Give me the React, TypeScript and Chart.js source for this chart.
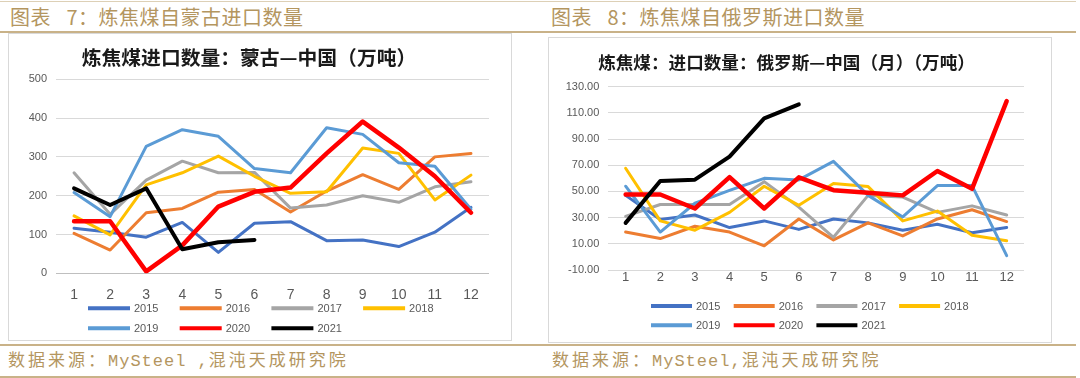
import React, { useEffect, useRef } from 'react';
import { Chart, registerables } from 'chart.js';

Chart.register(...registerables);

// ---- shared categories / series labels ----
const months = ['1', '2', '3', '4', '5', '6', '7', '8', '9', '10', '11', '12'];
const years = ['2015', '2016', '2017', '2018', '2019', '2020', '2021'];
const seriesColors = ['#4472C4', '#ED7D31', '#A5A5A5', '#FFC000', '#5B9BD5', '#FF0000', '#000000'];
const seriesWidths = [3, 3, 3, 3, 3, 4.5, 4];

// ---- Mongolia -> China (万吨) ----
const mn2015 = [116, 106, 93, 131, 54, 129, 133, 84, 86, 69, 106, 170];
const mn2016 = [103, 60, 156, 167, 209, 216, 158, 212, 254, 216, 300, 309];
const mn2017 = [259, 152, 240, 289, 259, 260, 168, 176, 200, 183, 223, 236];
const mn2018 = [148, 99, 228, 259, 302, 250, 206, 210, 323, 309, 189, 253];
const mn2019 = [208, 146, 327, 370, 353, 270, 259, 375, 358, 285, 276, 165];
const mn2020 = [134, 134, 5, 72, 172, 210, 221, 309, 391, 324, 250, 156];
const mn2021 = [219, 176, 219, 62, 80, 86];
const mnTicks = { min: 0, max: 500, step: 100 };

// ---- Russia -> China (万吨) ----
const ru2015 = [47, 28.5, 32, 22.4, 27.5, 21, 29, 26, 20.4, 25, 18.4, 22.4];
const ru2016 = [19, 14, 23.4, 19, 8.5, 29, 13, 26, 16, 29, 36, 27];
const ru2017 = [31, 40, 40, 40, 57.5, 38, 15, 47, 45.7, 34, 39, 32];
const ru2018 = [67.7, 27.5, 20.4, 34, 54, 39.4, 56, 53.7, 27.5, 35, 16.6, 12.3];
const ru2019 = [54, 19, 41, 50.8, 60, 58.8, 73, 47, 30.5, 54.5, 54.5, 1];
const ru2020 = [47.7, 47.7, 37, 61, 37, 60.8, 51, 49, 47, 65.6, 52, 119];
const ru2021 = [26, 58, 59, 76.6, 105.8, 116.5];
const ruTicks = { min: -10, max: 130, step: 20 };

const mnTitle = '炼焦煤进口数量：蒙古—中国（万吨）';
const ruTitle = '炼焦煤：进口数量：俄罗斯—中国（月）（万吨）';

const TICK_COLOR = '#595959';
const GRID_COLOR = '#d9d9d9';

// custom legend drawn in Excel-like grid (4 per row, rows left-aligned)
const lineLegend = {
  id: 'lineLegend',
  afterDraw(chart: any, _args: any, opts: any) {
    const ctx = chart.ctx;
    ctx.save();
    ctx.font = opts.font;
    ctx.textBaseline = 'middle';
    ctx.textAlign = 'left';
    chart.data.datasets.forEach((ds: any, i: number) => {
      const row = Math.floor(i / opts.perRow);
      const col = i % opts.perRow;
      const x = opts.x + col * opts.step;
      const y = opts.rows[row];
      ctx.strokeStyle = ds.borderColor;
      ctx.lineWidth = opts.lineWidth;
      ctx.lineCap = 'butt';
      ctx.beginPath();
      ctx.moveTo(x, y);
      ctx.lineTo(x + opts.len, y);
      ctx.stroke();
      ctx.fillStyle = TICK_COLOR;
      ctx.fillText(ds.label, x + opts.len + opts.gap, y + 0.5);
    });
    ctx.restore();
  },
};

type Cfg = {
  series: number[][];
  title: string;
  titleSize: number;
  titlePadTop: number;
  titlePadBottom: number;
  yWidth: number;
  rightPad: number;
  xHeight: number;
  xPad: number;
  xFont: number;
  ticks: { min: number; max: number; step: number };
  decimals: number;
  legend: any;
};

function LineChart({ cfg, width, height }: { cfg: Cfg; width: number; height: number }) {
  const ref = useRef<HTMLCanvasElement | null>(null);
  useEffect(() => {
    if (!ref.current) return;
    const datasets = years.map((y, i) => ({
      label: y,
      data: cfg.series[i],
      borderColor: seriesColors[i],
      backgroundColor: seriesColors[i],
      borderWidth: seriesWidths[i],
      pointRadius: 0,
      tension: 0,
      fill: false,
      borderJoinStyle: 'round' as const,
      borderCapStyle: 'round' as const,
      order: years.length - i,
    }));
    const chart = new Chart(ref.current, {
      type: 'line',
      data: { labels: months, datasets },
      plugins: [lineLegend as any],
      options: {
        animation: false,
        responsive: false,
        maintainAspectRatio: false,
        layout: { padding: { left: 0, right: cfg.rightPad, top: 0, bottom: 0 } },
        plugins: {
          legend: { display: false },
          tooltip: { enabled: false },
          title: {
            display: true,
            text: cfg.title,
            color: '#1a1a1a',
            font: { family: '"Noto Sans CJK SC", sans-serif', size: cfg.titleSize, weight: 'bold' },
            padding: { top: cfg.titlePadTop, bottom: cfg.titlePadBottom },
          },
          lineLegend: cfg.legend,
        } as any,
        scales: {
          x: {
            offset: true,
            grid: { display: false, drawTicks: false },
            border: { display: false },
            ticks: {
              color: TICK_COLOR,
              padding: cfg.xPad,
              font: { family: '"Liberation Sans", sans-serif', size: cfg.xFont },
              maxRotation: 0,
              autoSkip: false,
            },
            afterFit: (s: any) => {
              s.height = cfg.xHeight;
            },
          },
          y: {
            min: cfg.ticks.min,
            max: cfg.ticks.max,
            border: { display: false },
            grid: {
              drawTicks: false,
              color: (c: any) => (c.tick && c.tick.value === 0 ? '#bfbfbf' : GRID_COLOR),
              lineWidth: 1,
            },
            ticks: {
              stepSize: cfg.ticks.step,
              color: TICK_COLOR,
              padding: 9,
              font: { family: '"Liberation Sans", sans-serif', size: 11 },
              callback: (v: any) => Number(v).toFixed(cfg.decimals),
            },
            afterFit: (s: any) => {
              s.width = cfg.yWidth;
            },
          },
        },
      },
    });
    return () => chart.destroy();
  }, []);
  return <canvas ref={ref} width={width} height={height} style={{ display: 'block', width, height }} />;
}

const mnCfg: Cfg = {
  series: [mn2015, mn2016, mn2017, mn2018, mn2019, mn2020, mn2021],
  title: mnTitle,
  titleSize: 19.8,
  titlePadTop: 11.2,
  titlePadBottom: 10.3,
  yWidth: 47,
  rightPad: 22,
  xHeight: 66.7,
  xPad: 13,
  xFont: 14,
  ticks: mnTicks,
  decimals: 0,
  legend: {
    x: 79,
    step: 91.7,
    rows: [274.3, 294.3],
    perRow: 4,
    len: 42,
    gap: 4,
    lineWidth: 4,
    font: '11px "Liberation Sans", sans-serif',
  },
};

const ruCfg: Cfg = {
  series: [ru2015, ru2016, ru2017, ru2018, ru2019, ru2020, ru2021],
  title: ruTitle,
  titleSize: 17.6,
  titlePadTop: 13.5,
  titlePadBottom: 14.1,
  yWidth: 59.3,
  rightPad: 27,
  xHeight: 72,
  xPad: 0,
  xFont: 13,
  ticks: ruTicks,
  decimals: 2,
  legend: {
    x: 102,
    step: 82.7,
    rows: [268, 287.3],
    perRow: 4,
    len: 41,
    gap: 4,
    lineWidth: 4,
    font: '11px "Liberation Sans", sans-serif',
  },
};

const TAN_TEXT = '#b4965f';
const TAN_LINE = '#c9b288';

const headerStyle: React.CSSProperties = {
  position: 'absolute',
  top: 7,
  height: 20,
  lineHeight: '20px',
  fontSize: 20,
  letterSpacing: 0.5,
  color: TAN_TEXT,
  fontFamily: '"Noto Sans CJK SC", sans-serif',
  whiteSpace: 'nowrap',
};

const footerStyle: React.CSSProperties = {
  position: 'absolute',
  top: 350,
  height: 18,
  lineHeight: '18px',
  fontSize: 17,
  color: TAN_TEXT,
  fontFamily: '"Noto Sans CJK SC", sans-serif',
  whiteSpace: 'nowrap',
};

const cjk: React.CSSProperties = { letterSpacing: 3 };
const lat: React.CSSProperties = { letterSpacing: 1, fontFamily: '"Liberation Mono", monospace' };

export default function App() {
  return (
    <div
      style={{
        position: 'fixed',
        left: 0,
        top: 0,
        width: 1080,
        height: 378,
        background: '#ffffff',
        overflow: 'hidden',
      }}
    >
      <div style={{ position: 'absolute', left: 0, top: 1, width: 1076, height: 1, background: '#ddd0b6' }} />
      <div style={{ ...headerStyle, left: 10 }}>图表{'\u2002 '}7：炼焦煤自蒙古进口数量</div>
      <div style={{ ...headerStyle, left: 551 }}>图表{'\u2002 '}8：炼焦煤自俄罗斯进口数量</div>
      <div style={{ position: 'absolute', left: 0, top: 31, width: 1076, height: 2, background: TAN_LINE }} />

      <div
        style={{
          position: 'absolute',
          left: 8,
          top: 33,
          width: 504,
          height: 308,
          border: '1px solid #d9d9d9',
          boxSizing: 'border-box',
        }}
      >
        <LineChart cfg={mnCfg} width={502} height={306} />
      </div>
      <div
        style={{
          position: 'absolute',
          left: 548,
          top: 37,
          width: 504,
          height: 306,
          border: '1px solid #d9d9d9',
          boxSizing: 'border-box',
        }}
      >
        <LineChart cfg={ruCfg} width={502} height={304} />
      </div>

      <div style={{ position: 'absolute', left: 0, top: 344, width: 1076, height: 2, background: TAN_LINE }} />
      <div style={{ ...footerStyle, left: 8 }}>
        <span style={cjk}>数据来源：</span>
        <span style={lat}>MySteel ,</span>
        <span style={cjk}>混沌天成研究院</span>
      </div>
      <div style={{ ...footerStyle, left: 552 }}>
        <span style={cjk}>数据来源：</span>
        <span style={lat}>MySteel,</span>
        <span style={cjk}>混沌天成研究院</span>
      </div>
      <div style={{ position: 'absolute', left: 0, top: 376, width: 1076, height: 2, background: TAN_LINE }} />
    </div>
  );
}
